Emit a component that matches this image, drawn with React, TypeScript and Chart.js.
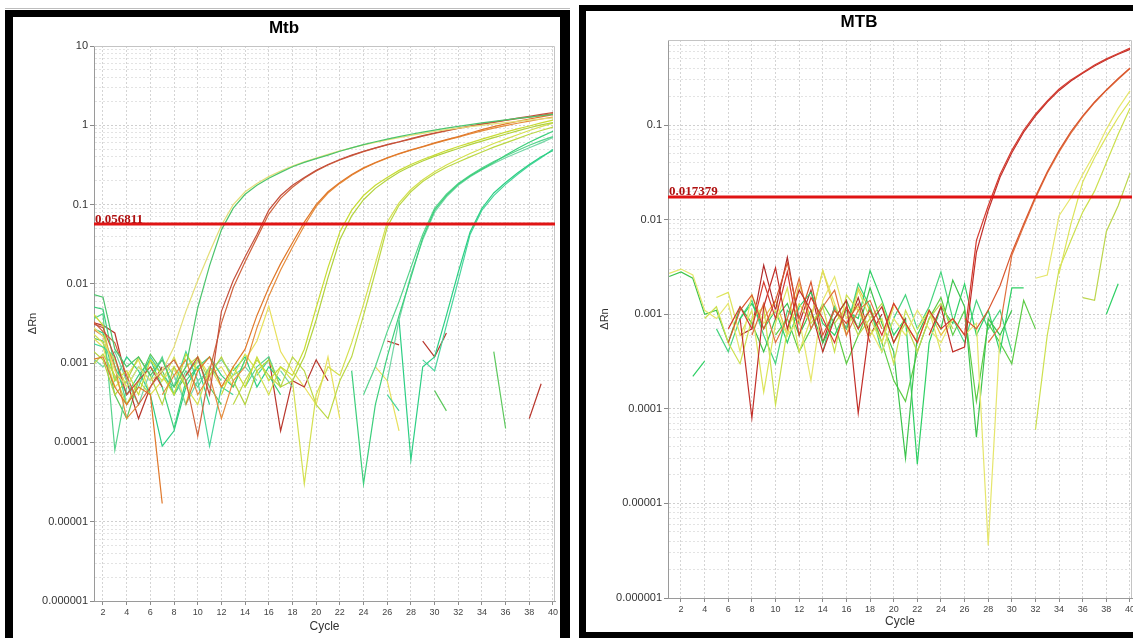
import React, { useEffect, useRef } from "react";
import { Chart, registerables } from "chart.js";

Chart.register(...registerables);

const FONT = "'Liberation Sans', Arial, Helvetica, sans-serif";
const _ = null;

// ---------- axes ----------
const cycles = [1, 2, 3, 4, 5, 6, 7, 8, 9, 10, 11, 12, 13, 14, 15, 16, 17, 18, 19, 20,
  21, 22, 23, 24, 25, 26, 27, 28, 29, 30, 31, 32, 33, 34, 35, 36, 37, 38, 39, 40];
const xTickValues = [2, 4, 6, 8, 10, 12, 14, 16, 18, 20, 22, 24, 26, 28, 30, 32, 34, 36, 38, 40];
const leftYTickLabels = ["0.000001", "0.00001", "0.0001", "0.001", "0.01", "0.1", "1", "10"];
const rightYTickLabels = ["0.000001", "0.00001", "0.0001", "0.001", "0.01", "0.1"];

const leftTitle = "Mtb";
const rightTitle = "MTB";
const leftThreshold = 0.056811;
const leftThresholdLabel = "0.056811";
const rightThreshold = 0.017379;
const rightThresholdLabel = "0.017379";

// ---------- left panel (Mtb) series, ΔRn per cycle 1..40 ----------
const leftG1a = [0.0075, 0.0068, 0.0015, 0.0009, 0.0012, 0.0007, 0.0011, 0.0005, 0.0009, 0.005,
  0.017, 0.048, 0.09, 0.135, 0.175, 0.215, 0.255, 0.3, 0.34, 0.38,
  0.42, 0.47, 0.52, 0.57, 0.62, 0.67, 0.72, 0.77, 0.82, 0.87,
  0.92, 0.97, 1.02, 1.07, 1.12, 1.17, 1.22, 1.27, 1.32, 1.37];
const leftG1b = [0.003, 0.0022, 0.0008, 0.0005, 0.0009, 0.0006, 0.0008, 0.0016, 0.0045, 0.011,
  0.025, 0.055, 0.1, 0.145, 0.185, 0.225, 0.265, 0.305, 0.345, 0.385,
  0.43, 0.475, 0.52, 0.565, 0.61, 0.655, 0.7, 0.745, 0.79, 0.835,
  0.88, 0.92, 0.96, 1.0, 1.04, 1.08, 1.12, 1.16, 1.2, 1.24];
const leftRa = [0.0032, 0.0028, 0.0012, 0.0004, 0.0006, 0.0009, 0.0005, _, 0.0007, 0.0012,
  0.0004, 0.0045, 0.011, 0.022, 0.042, 0.085, 0.13, 0.175, 0.22, 0.27,
  0.32, 0.37, 0.42, 0.47, 0.52, 0.57, 0.62, 0.68, 0.74, 0.8,
  0.86, 0.92, 0.98, 1.04, 1.1, 1.16, 1.23, 1.3, 1.37, 1.45];
const leftRb = [0.0036, 0.0025, 0.0018, 0.0007, 0.0003, 0.0005, 0.0008, 0.0011, 0.0006, 0.00012,
  0.0008, 0.0032, 0.009, 0.019, 0.038, 0.076, 0.12, 0.165, 0.215, 0.265,
  0.315, 0.365, 0.415, 0.465, 0.515, 0.565, 0.615, 0.67, 0.73, 0.79,
  0.85, 0.91, 0.97, 1.03, 1.09, 1.15, 1.21, 1.27, 1.33, 1.4];
const leftOa = [0.0011, 0.0012, 0.0005, 0.0003, 0.0005, 0.0004, 0.000017, _, 0.0003, 0.0008,
  0.0012, 0.0005, 0.0009, 0.0015, 0.004, 0.009, 0.018, 0.033, 0.06, 0.1,
  0.145, 0.19, 0.24, 0.29, 0.34, 0.39, 0.44, 0.49, 0.54, 0.6,
  0.66, 0.72, 0.8, 0.88, 0.96, 1.04, 1.12, 1.2, 1.28, 1.36];
const leftOb = [0.0028, 0.0022, 0.0009, 0.0002, 0.0003, _, 0.0004, 0.0007, 0.0011, 0.0004,
  0.0007, 0.0002, 0.0006, 0.0009, 0.0028, 0.007, 0.015, 0.029, 0.054, 0.095,
  0.14, 0.185, 0.235, 0.285, 0.335, 0.385, 0.435, 0.485, 0.535, 0.59,
  0.65, 0.71, 0.78, 0.85, 0.92, 0.99, 1.06, 1.13, 1.2, 1.27];
const leftY1a = [0.0045, 0.003, 0.0006, 0.0008, 0.0004, 0.0011, 0.0007, 0.0004, 0.0013, 0.0008,
  _, 0.0004, 0.0009, 0.0005, 0.0012, 0.0006, 0.0009, 0.0007, 0.0015, 0.005,
  0.016, 0.045, 0.085, 0.13, 0.175, 0.22, 0.27, 0.32, 0.37, 0.42,
  0.48, 0.54, 0.6, 0.67, 0.74, 0.82, 0.9, 0.98, 1.07, 1.16];
const leftY1b = [0.0015, 0.0011, 0.0004, 0.0006, 0.0012, 0.0007, 0.0003, 0.0009, 0.0005, _,
  0.0007, 0.0012, 0.0006, 0.0003, 0.0008, 0.0011, 0.0005, 0.0006, 0.0012, 0.0035,
  0.012, 0.036, 0.072, 0.115, 0.16, 0.205, 0.255, 0.305, 0.355, 0.405,
  0.455, 0.51, 0.57, 0.63, 0.7, 0.77, 0.85, 0.93, 1.01, 1.08];
const leftY2a = [0.0025, 0.0018, 0.0011, 0.0005, _, 0.0009, 0.0006, 0.0012, 0.0005, 0.0003,
  0.0009, 0.0005, 0.0007, 0.0013, 0.0008, 0.0004, 0.0009, 0.0006, 0.00003, 0.0004,
  0.0009, 0.0007, 0.0018, 0.0055, 0.018, 0.06, 0.105, 0.155, 0.205, 0.26,
  0.315, 0.375, 0.44, 0.51, 0.59, 0.67, 0.76, 0.86, 0.96, 1.06];
const leftY2b = [0.0009, 0.0013, 0.0007, 0.0003, 0.0006, 0.0004, _, 0.0005, 0.0009, 0.0012,
  0.0006, _, 0.0003, 0.0006, 0.0011, 0.0007, 0.0005, 0.0012, 0.0008, 0.0003,
  0.0002, 0.0006, 0.0012, 0.004, 0.014, 0.052, 0.098, 0.145, 0.195, 0.245,
  0.295, 0.345, 0.4, 0.46, 0.53, 0.6, 0.68, 0.77, 0.86, 0.95];
const leftGr1a = [0.0052, 0.0048, 0.0009, 0.0004, 0.0007, 0.0011, 0.0005, 0.00015, 0.0006, 0.0009,
  0.0012, 0.0007, 0.0005, 0.0011, _, 0.0007, 0.0004, _, _, _,
  _, _, 0.0008, 0.00003, 0.0003, 0.0012, 0.004, 0.012, 0.038, 0.085,
  0.13, 0.18, 0.23, 0.28, 0.34, 0.42, 0.51, 0.61, 0.72, 0.84];
const leftGr1b = [0.0035, 0.0042, 0.00008, 0.0005, 0.0009, 0.0006, 0.0012, 0.0004, 0.0008, 0.0005,
  0.0009, 0.0006, _, 0.0005, 0.0009, 0.0012, 0.0005, _, _, _,
  _, _, _, 0.0004, 0.0009, 0.0025, 0.006, 0.016, 0.042, 0.09,
  0.135, 0.185, 0.235, 0.29, 0.35, 0.41, 0.48, 0.56, 0.64, 0.72];
const leftGr1c = [0.0012, 0.0009, 0.0014, 0.0006, 0.0003, 0.0008, 0.0011, 0.0007, 0.0003, 0.0006,
  0.0008, 0.0011, 0.0007, 0.0009, 0.0006, _, 0.0008, 0.0005, _, _,
  _, _, _, _, _, 0.0006, 0.0035, 0.013, 0.036, 0.08,
  0.125, 0.175, 0.225, 0.275, 0.33, 0.39, 0.45, 0.52, 0.6, 0.7];
const leftGr2a = [0.0028, 0.0024, 0.0006, 0.0012, 0.0008, 0.0004, 0.00009, 0.00014, 0.0005, 0.0009,
  0.0003, _, 0.0008, 0.0012, 0.0005, 0.0009, 0.0006, _, _, _,
  _, _, _, _, _, _, 0.0035, 0.00006, 0.0009, 0.0012,
  0.004, 0.014, 0.045, 0.09, 0.14, 0.19, 0.25, 0.32, 0.4, 0.48];
const leftGr2b = [0.0018, 0.0016, 0.0012, 0.0003, 0.0005, 0.0012, 0.0007, 0.0005, 0.0014, 0.0006,
  0.00009, 0.0005, 0.0004, _, 0.0007, 0.0011, _, _, _, _,
  _, _, _, _, _, 0.0004, 0.00025, _, 0.0011, 0.0008,
  0.003, 0.011, 0.042, 0.085, 0.13, 0.18, 0.24, 0.31, 0.39, 0.5];
const leftNoiseRed = [0.0033, 0.003, 0.0024, 0.0006, 0.0002, 0.0005, 0.0009, _, _, _,
  _, _, _, _, _, 0.0012, 0.00014, 0.0006, 0.0005, 0.0011,
  0.0006, _, _, _, _, 0.0019, 0.0017, _, 0.0019, 0.0012,
  0.0024, _, _, _, _, _, _, 0.0002, 0.00055, _];
const leftNoiseYellow = [0.0022, 0.0016, 0.0005, 0.0007, 0.0011, 0.0004, 0.0006, 0.0009, 0.0003, 0.0012,
  0.0007, 0.0009, 0.0005, 0.0011, 0.0019, 0.0052, 0.0014, 0.0008, 0.0005, 0.0003,
  0.0012, 0.0002, _, _, 0.0009, 0.0006, 0.00014, _, _, _,
  _, _, _, _, _, _, _, _, _, _];
const leftNoiseGreen = [0.0021, 0.0019, 0.0004, 0.0002, 0.0006, 0.0013, 0.0008, 0.0004, 0.0007, 0.0011,
  0.0005, 0.0003, _, _, _, _, _, _, _, _,
  _, _, _, _, _, _, _, _, _, 0.00045,
  0.00025, _, _, _, 0.0014, 0.00015, _, _, _, _];

// ---------- right panel (MTB) series ----------
const rightR1 = [_, _, _, _, _, 0.0007, 0.0012, 0.0007, 0.0022, 0.0009,
  0.0028, 0.0006, 0.0015, 0.0009, 0.0005, 0.0012, 0.0007, 0.0011, 0.0006, 0.0013,
  0.0008, 0.0005, 0.0011, 0.0007, 0.0009, 0.0006, 0.006, 0.014, 0.03, 0.054,
  0.088, 0.13, 0.18, 0.24, 0.3, 0.36, 0.43, 0.5, 0.57, 0.65];
const rightR2 = [_, _, _, _, _, _, 0.0009, 0.00008, 0.0012, 0.0031,
  0.0007, 0.0018, 0.0011, 0.0004, 0.0009, 0.0014, 0.00009, 0.0008, 0.0012, 0.0005,
  0.0009, _, 0.0006, 0.0012, 0.0004, 0.00045, 0.0045, 0.0125, 0.028, 0.051,
  0.084, 0.125, 0.175, 0.232, 0.292, 0.352, 0.42, 0.49, 0.56, 0.63];
const rightR3 = [_, _, _, _, _, 0.0005, 0.0011, 0.0016, 0.0007, 0.0014,
  0.0035, 0.0009, 0.0022, 0.0006, 0.0011, 0.0008, 0.0013, 0.0005, _, _,
  _, _, _, _, _, 0.0009, 0.0007, 0.0011, 0.002, 0.0045,
  0.009, 0.0175, 0.032, 0.054, 0.085, 0.125, 0.175, 0.235, 0.31, 0.4];
const rightR4 = [_, _, _, _, _, _, _, 0.0006, 0.0013, 0.0005,
  0.0009, 0.0024, 0.0007, 0.0012, 0.0018, 0.0006, 0.0011, 0.0014, 0.0007, _,
  _, _, _, _, _, _, _, 0.0005, 0.00074, 0.0042,
  0.0085, 0.0168, 0.031, 0.052, 0.082, 0.122, 0.172, 0.232, 0.305, 0.395];
const rightYa = [0.0027, 0.003, 0.0026, 0.0011, 0.0009, 0.0013, 0.0004, 0.0016, 0.0008, 0.0011,
  0.0006, 0.0009, 0.0002, 0.0014, 0.0025, 0.0009, 0.0012, 0.0007, 0.0004, 0.0009,
  0.0006, 0.0011, 0.0007, 0.0005, 0.0009, 0.0006, 0.0008, 0.0000036, 0.0006, _,
  _, 0.0024, 0.0026, 0.011, 0.017, 0.03, 0.05, 0.09, 0.15, 0.23];
const rightYb = [_, _, _, _, 0.0015, 0.0017, 0.0006, 0.0011, 0.00015, 0.0008,
  0.0019, 0.0004, 0.0009, 0.0029, 0.0013, 0.0006, 0.0018, 0.0009, 0.0005, 0.0012,
  _, 0.0007, 0.0011, 0.0004, _, _, _, _, _, _,
  _, _, _, 0.0027, 0.009, 0.025, 0.045, 0.075, 0.12, 0.18];
const rightYc = [_, _, _, 0.0009, 0.0012, 0.0005, 0.0003, 0.0009, 0.0012, 0.00011,
  0.0007, 0.0013, 0.0008, 0.0012, 0.0004, 0.0016, 0.0011, 0.0006, 0.0009, 0.0003,
  0.0011, 0.0006, _, _, _, _, _, _, _, _,
  _, 0.00006, 0.0006, 0.003, 0.006, 0.012, 0.02, 0.04, 0.08, 0.15];
const rightYd = [_, _, _, _, _, _, _, _, _, _,
  _, _, _, _, 0.0008, 0.0012, 0.0006, 0.0009, 0.0013, 0.0005,
  0.0008, 0.0004, 0.0009, 0.0013, 0.0007, _, _, _, _, _,
  _, _, _, _, _, 0.0015, 0.0014, 0.0075, 0.014, 0.031];
const rightGa = [0.0025, 0.0028, 0.0024, 0.001, 0.0011, 0.0005, 0.0012, 0.0008, 0.0004, 0.0009,
  0.0013, 0.0006, 0.0011, 0.0005, 0.0009, 0.0014, 0.0007, 0.0019, 0.0008, 0.0004,
  0.00003, 0.0006, 0.0011, 0.0007, 0.0023, 0.0012, 0.00005, 0.0009, 0.0006, 0.0011,
  _, _, _, _, _, _, _, _, _, _];
const rightGb = [_, _, 0.00022, 0.00032, _, _, 0.0009, 0.0013, 0.0007, 0.0011,
  0.0005, 0.0012, 0.0017, 0.0008, 0.0006, 0.0011, 0.0009, 0.0029, 0.0014, 0.0006,
  0.0009, 0.000026, 0.0005, 0.0012, 0.0008, 0.0021, 0.0006, 0.0011, 0.0004, 0.0019,
  0.0019, _, _, _, _, _, _, 0.001, 0.0021, _];
const rightGc = [_, _, _, _, _, _, _, _, _, 0.0006,
  0.0009, 0.0004, 0.0007, 0.0013, 0.0008, 0.0003, 0.0006, 0.0012, 0.0005, 0.0002,
  0.00012, 0.0004, 0.0009, 0.0015, 0.0006, 0.0011, 0.00012, 0.0008, 0.0005, 0.0003,
  0.0014, 0.0007, _, _, _, _, _, _, _, _];
const rightGd = [_, _, _, _, 0.0007, 0.0004, 0.0009, 0.0014, 0.0006, 0.0003,
  0.0011, 0.0008, _, 0.0004, 0.0012, 0.0007, 0.0021, 0.0012, 0.0004, 0.0009,
  0.0016, 0.0007, 0.0012, 0.0028, 0.0009, 0.0005, 0.0014, 0.0007, 0.0011, 0.0004,
  _, _, _, _, _, _, _, _, _, _];
const rightRd = [_, _, _, _, _, _, 0.0006, 0.0007, 0.0033, 0.0011,
  0.004, 0.0008, 0.0018, 0.0005, 0.0012, 0.0007, 0.0015, 0.0006, 0.001, _,
  _, _, _, _, _, _, _, _, _, _,
  _, _, _, _, _, _, _, _, _, _];
const rightOy = [_, _, _, _, _, _, _, _, 0.0009, 0.0014,
  0.0006, 0.0021, 0.0009, 0.0029, 0.0011, 0.0007, 0.0019, 0.0011, 0.0005, 0.0013,
  0.0008, 0.0005, 0.0011, 0.0006, 0.0009, _, _, _, _, _,
  _, _, _, _, _, _, _, _, _, _];

type Series = { name: string; color: string; values: (number | null)[] };

const leftSeries: Series[] = [
  { name: "G1a", color: "#4cc46c", values: leftG1a },
  { name: "G1b", color: "#e4de78", values: leftG1b },
  { name: "Ra", color: "#c4503c", values: leftRa },
  { name: "Rb", color: "#d0643e", values: leftRb },
  { name: "Oa", color: "#e0782a", values: leftOa },
  { name: "Ob", color: "#e68c3c", values: leftOb },
  { name: "Y1a", color: "#c8dc34", values: leftY1a },
  { name: "Y1b", color: "#b2d23e", values: leftY1b },
  { name: "Y2a", color: "#d4e050", values: leftY2a },
  { name: "Y2b", color: "#bcd846", values: leftY2b },
  { name: "Gr1a", color: "#3ccf7c", values: leftGr1a },
  { name: "Gr1b", color: "#56d48c", values: leftGr1b },
  { name: "Gr1c", color: "#74d6a6", values: leftGr1c },
  { name: "Gr2a", color: "#2ccf84", values: leftGr2a },
  { name: "Gr2b", color: "#48d69c", values: leftGr2b },
  { name: "Nr", color: "#b8362c", values: leftNoiseRed },
  { name: "Ny", color: "#e8e05c", values: leftNoiseYellow },
  { name: "Ng", color: "#5cc85c", values: leftNoiseGreen },
];

const rightSeries: Series[] = [
  { name: "R1", color: "#d43a2e", values: rightR1 },
  { name: "R2", color: "#c22e28", values: rightR2 },
  { name: "R3", color: "#d9562e", values: rightR3 },
  { name: "R4", color: "#e0703e", values: rightR4 },
  { name: "Ya", color: "#e6e66c", values: rightYa },
  { name: "Yb", color: "#dce45a", values: rightYb },
  { name: "Yc", color: "#cce04e", values: rightYc },
  { name: "Yd", color: "#bcd64c", values: rightYd },
  { name: "Ga", color: "#3cc44c", values: rightGa },
  { name: "Gb", color: "#2ed064", values: rightGb },
  { name: "Gc", color: "#5ccc44", values: rightGc },
  { name: "Gd", color: "#46d47e", values: rightGd },
  { name: "Rd", color: "#b02828", values: rightRd },
  { name: "Oy", color: "#e8c040", values: rightOy },
];

type PanelSpec = {
  title: string;
  series: Series[];
  threshold: number;
  thresholdLabel: string;
  yMin: number;
  yMax: number;
  yTickLabels: string[];
  xMin: number;
  xMax: number;
  yScaleWidth: number;
  xScaleHeight: number;
  padRight: number;
  yTitlePad: number;
  xTitlePad: number;
  width: number;
  height: number;
};

function buildLogTicks(labels: string[], max: number) {
  const out: number[] = [];
  labels.forEach((l) => {
    const e = Math.round(Math.log10(Number(l)));
    for (let m = 1; m <= 9; m++) {
      const v = parseFloat(m + "e" + e);
      if (v <= max * 1.000001) out.push(v);
    }
  });
  return out;
}

function buildConfig(p: PanelSpec): any {
  const majors = p.yTickLabels.map(Number);
  const majorIndex = (v: number) => majors.findIndex((m) => Math.abs(m - v) / m < 1e-6);
  const yTicks = buildLogTicks(p.yTickLabels, p.yMax);

  const datasets: any[] = p.series.map((s) => ({
    label: s.name,
    data: cycles.map((c, i) => ({ x: c, y: s.values[i] })),
    borderColor: s.color,
    backgroundColor: s.color,
    borderWidth: 1.2,
    pointRadius: 0,
    pointHoverRadius: 0,
    tension: 0,
    spanGaps: false,
    fill: false,
    order: 1,
  }));
  datasets.unshift({
    label: "Threshold",
    data: [
      { x: p.xMin, y: p.threshold },
      { x: p.xMax, y: p.threshold },
    ],
    borderColor: "#e01414",
    backgroundColor: "#e01414",
    borderWidth: 3,
    pointRadius: 0,
    fill: false,
    order: 0,
  });

  const framePlugin = {
    id: "plotFrame",
    beforeDatasetsDraw(chart: any) {
      const { ctx, chartArea: a } = chart;
      ctx.save();
      ctx.strokeStyle = "#c4c4c4";
      ctx.lineWidth = 1;
      ctx.beginPath();
      ctx.moveTo(a.left, a.top + 0.5);
      ctx.lineTo(a.right - 0.5, a.top + 0.5);
      ctx.lineTo(a.right - 0.5, a.bottom);
      ctx.stroke();
      ctx.restore();
    },
  };

  const labelPlugin = {
    id: "thresholdLabel",
    afterDatasetsDraw(chart: any) {
      const { ctx, chartArea: a, scales } = chart;
      const y = scales.y.getPixelForValue(p.threshold);
      ctx.save();
      ctx.font = "bold 13px 'Liberation Serif', 'Times New Roman', serif";
      ctx.fillStyle = "#b01010";
      ctx.textAlign = "left";
      ctx.textBaseline = "alphabetic";
      ctx.fillText(p.thresholdLabel, a.left + 1, y - 1.5);
      ctx.restore();
    },
  };

  return {
    type: "line",
    data: { datasets },
    options: {
      responsive: false,
      animation: false,
      devicePixelRatio: 1,
      events: [],
      layout: { padding: { left: 0, right: p.padRight, top: 0, bottom: 0 } },
      plugins: {
        legend: { display: false },
        tooltip: { enabled: false },
        title: {
          display: true,
          text: p.title,
          color: "#000",
          font: { family: FONT, size: 17, weight: "bold" },
          padding: { top: 1, bottom: 7.6 },
        },
      },
      scales: {
        x: {
          type: "linear",
          min: p.xMin,
          max: p.xMax,
          afterBuildTicks: (s: any) => {
            s.ticks = xTickValues.map((v) => ({ value: v }));
          },
          afterFit: (s: any) => {
            s.height = p.xScaleHeight;
            s.paddingLeft = 0;
            s.paddingRight = 0;
          },
          ticks: {
            autoSkip: false,
            maxRotation: 0,
            minRotation: 0,
            padding: 2,
            color: "#444",
            font: { family: FONT, size: 9 },
            callback: (v: any) => String(v),
          },
          grid: {
            color: "#d4d4d4",
            lineWidth: 1,
            tickColor: "#8a8a8a",
            tickLength: 4,
            tickBorderDash: [],
          },
          border: { display: true, color: "#9a9a9a", width: 1, dash: [2, 2] },
          title: {
            display: true,
            text: "Cycle",
            color: "#333",
            font: { family: FONT, size: 12 },
            padding: { top: 0, bottom: p.xTitlePad },
          },
        },
        y: {
          type: "logarithmic",
          min: p.yMin,
          max: p.yMax,
          afterBuildTicks: (s: any) => {
            s.ticks = yTicks.map((v) => ({ value: v }));
          },
          afterFit: (s: any) => {
            s.width = p.yScaleWidth;
            s.paddingTop = 0;
            s.paddingBottom = 0;
          },
          ticks: {
            autoSkip: false,
            padding: 2,
            color: "#333",
            font: { family: FONT, size: 11 },
            callback: (v: any) => {
              const i = majorIndex(Number(v));
              return i >= 0 ? p.yTickLabels[i] : "";
            },
          },
          grid: {
            color: (ctx: any) =>
              ctx.tick && majorIndex(ctx.tick.value) >= 0 ? "#cfcfcf" : "#e3e3e3",
            lineWidth: 1,
            tickColor: (ctx: any) =>
              ctx.tick && majorIndex(ctx.tick.value) >= 0 ? "#8a8a8a" : "rgba(0,0,0,0)",
            tickLength: 4,
            tickBorderDash: [],
          },
          border: { display: true, color: "#9a9a9a", width: 1, dash: [2, 2] },
          title: {
            display: true,
            text: "ΔRn",
            color: "#333",
            font: { family: FONT, size: 11 },
            padding: { top: p.yTitlePad, bottom: 0 },
          },
        },
      },
    },
    plugins: [framePlugin, labelPlugin],
  };
}

function Panel({ spec }: { spec: PanelSpec }) {
  const ref = useRef<HTMLCanvasElement | null>(null);
  useEffect(() => {
    if (!ref.current) return;
    const chart = new Chart(ref.current, buildConfig(spec));
    return () => chart.destroy();
  }, [spec]);
  return (
    <canvas
      ref={ref}
      width={spec.width}
      height={spec.height}
      style={{ display: "block", width: spec.width, height: spec.height }}
    />
  );
}

const leftSpec: PanelSpec = {
  title: leftTitle,
  series: leftSeries,
  threshold: leftThreshold,
  thresholdLabel: leftThresholdLabel,
  yMin: 0.000001,
  yMax: 10,
  yTickLabels: leftYTickLabels,
  xMin: 1.24,
  xMax: 40.17,
  yScaleWidth: 81,
  xScaleHeight: 37,
  padRight: 5,
  yTitlePad: 13.4,
  xTitlePad: 3.8,
  width: 547,
  height: 621,
};

const rightSpec: PanelSpec = {
  title: rightTitle,
  series: rightSeries,
  threshold: rightThreshold,
  thresholdLabel: rightThresholdLabel,
  yMin: 0.000001,
  yMax: 0.792,
  yTickLabels: rightYTickLabels,
  xMin: 0.9,
  xMax: 40.17,
  yScaleWidth: 82,
  xScaleHeight: 34,
  padRight: 1,
  yTitlePad: 12.4,
  xTitlePad: 2.8,
  width: 547,
  height: 621,
};

export default function App() {
  return (
    <div
      style={{
        position: "fixed",
        left: 0,
        top: 0,
        width: 1133,
        height: 638,
        overflow: "hidden",
        background: "#fff",
      }}
    >
      <div style={{ position: "absolute", left: 5, top: 8, width: 565, height: 1, background: "#bdbdbd" }} />
      <div
        style={{
          position: "absolute",
          left: 5,
          top: 10,
          width: 547,
          height: 700,
          borderLeft: "8px solid #000",
          borderTop: "7px solid #000",
          borderRight: "10px solid #000",
          background: "#fff",
        }}
      >
        <Panel spec={leftSpec} />
      </div>
      <div
        style={{
          position: "absolute",
          left: 579,
          top: 5,
          width: 560,
          height: 621,
          borderLeft: "7px solid #000",
          borderTop: "6px solid #000",
          borderBottom: "6px solid #000",
          background: "#fff",
        }}
      >
        <Panel spec={rightSpec} />
      </div>
    </div>
  );
}
